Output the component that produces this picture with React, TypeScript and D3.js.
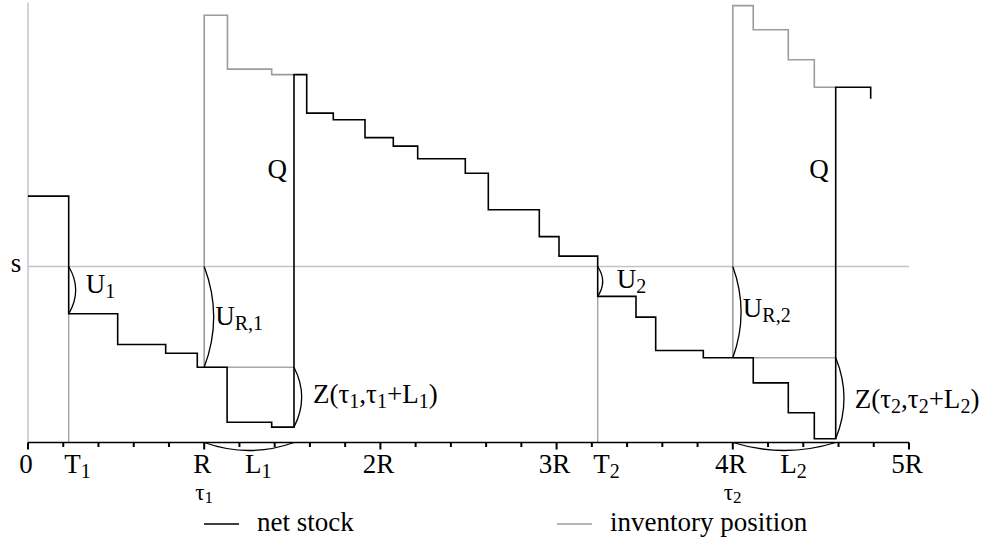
import React from "react";
import * as d3 from "d3";

const W = 987;
const H = 542;

// Time is measured in fifths of the review period R; levels in stock units.
const netStockTime = [0, 1.155, 2.545, 3.907, 4.804, 5.65, 6.915, 7.548, 7.909, 8.663, 9.563, 10.366, 11.058, 12.409, 13.062, 14.509, 15.068, 16.166, 17.253, 17.812, 19.163, 20.58, 21.575, 22.313, 22.92, 23.913];
const netStockLevel = [56, 29.25, 22.27, 20.3, 17.1, 4.6, 3.5, 83.6, 74.85, 73.35, 69.3, 67.35, 64.5, 61.2, 52.9, 46.8, 42.35, 33.2, 28.5, 20.9, 19.25, 13.55, 6.75, 0.85, 80.75, 78.1];

// Inventory position while an order is outstanding
const positionTime1 = [5, 5, 5.66, 6.915, 7.548];
const positionLevel1 = [17.1, 97.1, 84.85, 83.6, 83.6];
const positionTime2 = [20, 20, 20.58, 21.575, 22.313, 22.92];
const positionLevel2 = [19.25, 99.3, 93.8, 87.0, 80.75, 80.75];

const reorderLevel = 40; // s
const reviewTimes = [0, 5, 10, 15, 20, 25];
const reviewLabels = ["0", "R", "2R", "3R", "4R", "5R"];
const triggerTimes = [1.155, 16.166]; // T1, T2
const orderTimes = [5, 20]; // tau1, tau2
const arrivalTimes = [7.548, 22.92]; // tau + L
const levelAtTrigger = [29.25, 33.2];
const levelAtOrder = [17.1, 19.25];
const levelBeforeArrival = [3.5, 0.85];

const xs = d3.scaleLinear().domain([0, 25]).range([28, 909]);
const ys = d3.scaleLinear().domain([0, 100]).range([442.5, 2.5]);

const step = d3
  .line<[number, number]>()
  .x((d) => xs(d[0]))
  .y((d) => ys(d[1]))
  .curve(d3.curveStepAfter);

const zip = (a: number[], b: number[]) => a.map((t, i) => [t, b[i]] as [number, number]);

const FONT = "'Liberation Serif', 'Times New Roman', Times, serif";
const FS = 27;
const SUB = 20;
const SHIFT = 5;

// parts: [text, isSubscript]
function rich(parts: [string, boolean][], fs = FS, sub = SUB, shift = SHIFT) {
  let cur = 0;
  return parts.map(([txt, isSub], i) => {
    const target = isSub ? shift : 0;
    const dy = target - cur;
    cur = target;
    return (
      <tspan key={i} dy={dy} fontSize={isSub ? sub : fs}>
        {txt}
      </tspan>
    );
  });
}

function vArc(t: number, v1: number, v2: number, bulge: number) {
  const x = xs(t);
  const y1 = ys(v1);
  const y2 = ys(v2);
  return `M${x},${y1} Q${x + 2 * bulge},${(y1 + y2) / 2} ${x},${y2}`;
}

function hArc(t1: number, t2: number, v: number, bulge: number) {
  const x1 = xs(t1);
  const x2 = xs(t2);
  const y = ys(v);
  return `M${x1},${y} Q${(x1 + x2) / 2},${y + 2 * bulge} ${x2},${y}`;
}

export default function App() {
  const ticks = d3.range(0, 26);
  const axisY = ys(0);
  const lightGrey = "#c4c4c4";
  const markGrey = "#a8a8a8";
  const posGrey = "#9c9c9c";

  return (
    <svg
      width={W}
      height={H}
      style={{ position: "absolute", left: 0, top: 0, background: "#fff" }}
      fontFamily={FONT}
    >
      {/* vertical axis and reorder level */}
      <line x1={xs(0)} x2={xs(0)} y1={ys(100)} y2={axisY} stroke={lightGrey} strokeWidth={1.5} />
      <line x1={xs(0)} x2={xs(25)} y1={ys(reorderLevel)} y2={ys(reorderLevel)} stroke={lightGrey} strokeWidth={1.5} />
      <text x={16} y={ys(reorderLevel) + 5} fontSize={FS} textAnchor="middle">s</text>

      {/* trigger markers */}
      {triggerTimes.map((t, i) => (
        <line key={"tr" + i} x1={xs(t)} x2={xs(t)} y1={ys(levelAtTrigger[i])} y2={axisY} stroke={markGrey} strokeWidth={1.5} />
      ))}

      {/* reference levels during lead time */}
      {orderTimes.map((t, i) => (
        <line key={"ref" + i} x1={xs(t)} x2={xs(arrivalTimes[i])} y1={ys(levelAtOrder[i])} y2={ys(levelAtOrder[i])} stroke={markGrey} strokeWidth={1.5} />
      ))}

      {/* inventory position */}
      <path d={step(zip(positionTime1, positionLevel1)) || ""} fill="none" stroke={posGrey} strokeWidth={1.6} />
      <path d={step(zip(positionTime2, positionLevel2)) || ""} fill="none" stroke={posGrey} strokeWidth={1.6} />

      {/* net stock */}
      <path d={step(zip(netStockTime, netStockLevel)) || ""} fill="none" stroke="#000" strokeWidth={1.6} />

      {/* braces */}
      <g fill="none" stroke="#000" strokeWidth={1.3}>
        <path d={vArc(triggerTimes[0], reorderLevel, levelAtTrigger[0], 7)} />
        <path d={vArc(orderTimes[0], reorderLevel, levelAtOrder[0], 9.5)} />
        <path d={vArc(arrivalTimes[0], levelAtOrder[0], levelBeforeArrival[0], 7.7)} />
        <path d={hArc(orderTimes[0], arrivalTimes[0], 0, 8)} />
        <path d={vArc(triggerTimes[1], reorderLevel, levelAtTrigger[1], 5)} />
        <path d={vArc(orderTimes[1], reorderLevel, levelAtOrder[1], 8.3)} />
        <path d={vArc(arrivalTimes[1], levelAtOrder[1], levelBeforeArrival[1], 8.3)} />
        <path d={hArc(orderTimes[1], arrivalTimes[1], 0, 8)} />
      </g>

      {/* annotations */}
      <g fontSize={FS} fill="#000">
        <text x={xs(triggerTimes[0]) + 17} y={293}>{rich([["U", false], ["1", true]])}</text>
        <text x={xs(orderTimes[0]) + 11} y={325}>{rich([["U", false], ["R,1", true]])}</text>
        <text x={xs(arrivalTimes[0]) + 19} y={403}>
          {rich([["Z(τ", false], ["1", true], [",τ", false], ["1", true], ["+L", false], ["1", true], [")", false]])}
        </text>
        <text x={xs(triggerTimes[1]) + 19} y={288}>{rich([["U", false], ["2", true]])}</text>
        <text x={xs(orderTimes[1]) + 10} y={317}>{rich([["U", false], ["R,2", true]])}</text>
        <text x={xs(arrivalTimes[1]) + 19} y={408}>
          {rich([["Z(τ", false], ["2", true], [",τ", false], ["2", true], ["+L", false], ["2", true], [")", false]])}
        </text>
        <text x={xs(arrivalTimes[0]) - 7} y={178} textAnchor="end">Q</text>
        <text x={xs(arrivalTimes[1]) - 7} y={178} textAnchor="end">Q</text>
      </g>

      {/* time axis */}
      <line x1={xs(0)} x2={xs(25)} y1={axisY} y2={axisY} stroke="#000" strokeWidth={1.5} />
      {ticks.map((t) => (
        <line key={"tk" + t} x1={xs(t)} x2={xs(t)} y1={axisY} y2={axisY + (t % 5 === 0 ? 7 : 4.5)} stroke="#000" strokeWidth={2} />
      ))}
      <g fontSize={FS} fill="#000">
        {reviewTimes.map((t, i) => (
          <text key={"rl" + i} x={xs(t) - 2} y={473} textAnchor="middle">{reviewLabels[i]}</text>
        ))}
        {orderTimes.map((t, i) => (
          <text key={"ol" + i} x={xs(t) - 9} y={499.5}>
            {rich([["τ", false], [String(i + 1), true]], 23, 17, 3)}
          </text>
        ))}
        {triggerTimes.map((t, i) => (
          <text key={"tl" + i} x={xs(t) - 4.5} y={473}>{rich([["T", false], [String(i + 1), true]])}</text>
        ))}
        {orderTimes.map((t, i) => (
          <text key={"ll" + i} x={(xs(t) + xs(arrivalTimes[i])) / 2 - 4} y={473}>{rich([["L", false], [String(i + 1), true]])}</text>
        ))}
      </g>

      {/* legend */}
      <line x1={204} x2={239} y1={524} y2={524} stroke="#000" strokeWidth={1.6} />
      <text x={257} y={531} fontSize={FS}>net stock</text>
      <line x1={557} x2={592} y1={524} y2={524} stroke={posGrey} strokeWidth={1.6} />
      <text x={610} y={531} fontSize={FS}>inventory position</text>
    </svg>
  );
}
